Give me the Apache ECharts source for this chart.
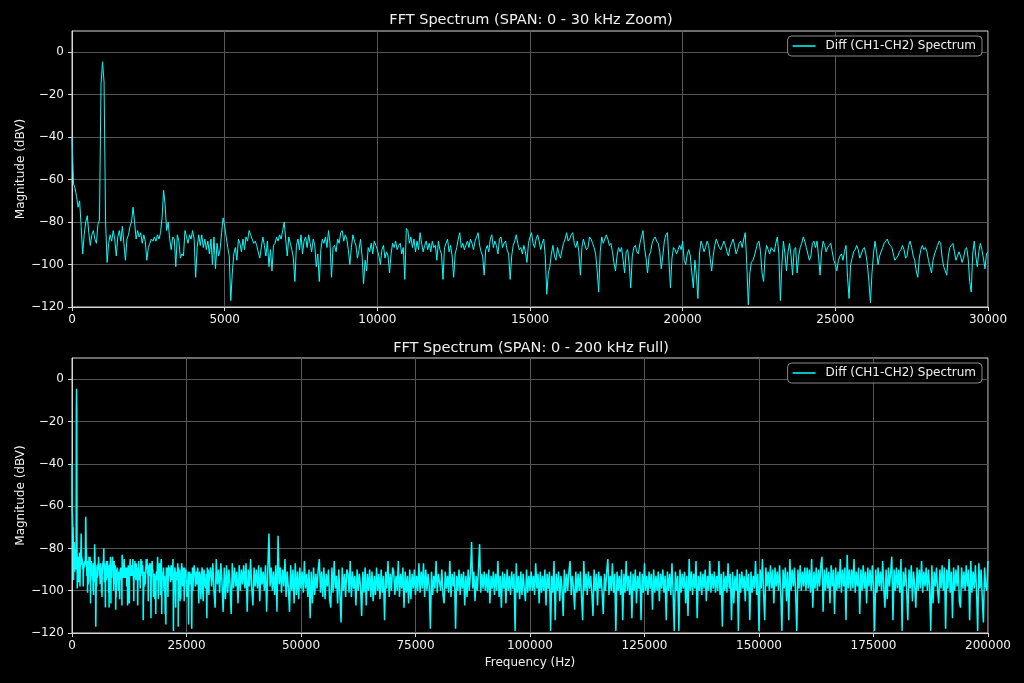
<!DOCTYPE html>
<html>
<head>
<meta charset="utf-8">
<title>FFT Spectrum</title>
<script src="https://cdn.jsdelivr.net/npm/echarts@6/dist/echarts.min.js"></script>
<style>
  html, body { margin: 0; padding: 0; background: #000; }
  #chart { width: 1024px; height: 683px; }
</style>
</head>
<body>
<div id="chart"></div>
<script>
// ---------------- data ----------------
const seriesName = 'Diff (CH1-CH2) Spectrum';
const zoomTitle = 'FFT Spectrum (SPAN: 0 - 30 kHz Zoom)';
const fullTitle = 'FFT Spectrum (SPAN: 0 - 200 kHz Full)';
const yAxisTitle = 'Magnitude (dBV)';
const xAxisTitle = 'Frequency (Hz)';

// frequency bins
const zoomStepHz = 50;          // 0 .. 30000 Hz
const tailStartHz = 30250;      // 30250 .. 200000 Hz
const tailStepHz = 250;

// axis ticks
const zoomSpanHz = [0, 30000];
const zoomTickHz = 5000;
const fullSpanHz = [0, 200000];
const fullTickHz = 25000;
const magRangeDbv = [-120, 10];
const magTickDbv = 20;
const magTickValues = [-120, -100, -80, -60, -40, -20, 0];

// magnitude (dBV), 0..30000 Hz every 50 Hz (one row = 1 kHz)
const zoomMagDbv = [
  -40,-62,-64,-68,-73,-70,-82,-95,-86,-80,-77,-85,-91,-86,-84,-88,-90,-81,-79,-15,
  -4.5,-14,-80,-99,-90,-86,-89,-84,-88,-96,-87,-84,-89,-82,-90,-98,-88,-86,-82,-80,
  -73,-80,-88,-84,-87,-85,-90,-86,-89,-98,-92,-90,-88,-89,-87,-89,-86,-88,-85,-78,
  -65,-72,-84,-80,-88,-93,-87,-88,-101,-86,-89,-97,-95,-96,-84,-87,-90,-86,-88,-84,
  -88,-106,-92,-86,-91,-86,-92,-88,-93,-89,-95,-88,-100,-87,-102,-90,-96,-93,-85,-78,
  -82,-87,-92,-96,-117,-104,-95,-92,-98,-88,-90,-94,-88,-93,-87,-89,-84,-86,-88,-90,
  -89,-91,-94,-97,-92,-87,-91,-96,-89,-101,-93,-103,-91,-90,-87,-89,-86,-88,-84,-80,
  -88,-96,-87,-90,-93,-97,-108,-91,-88,-93,-86,-95,-89,-87,-92,-86,-90,-94,-88,-91,
  -101,-95,-108,-93,-88,-90,-87,-92,-84,-90,-106,-92,-91,-94,-88,-90,-85,-84,-89,-86,
  -88,-93,-100,-92,-86,-89,-91,-97,-93,-88,-96,-109,-98,-103,-92,-94,-90,-95,-89,-91,
  -93,-96,-100,-93,-91,-97,-94,-96,-104,-95,-90,-92,-89,-93,-91,-90,-95,-92,-107,-83,
  -84,-90,-87,-92,-88,-94,-89,-93,-85,-90,-94,-91,-89,-93,-90,-94,-89,-92,-91,-98,
  -89,-93,-95,-107,-92,-90,-88,-94,-91,-96,-106,-95,-92,-88,-85,-92,-90,-93,-91,-89,
  -92,-88,-90,-93,-89,-87,-85,-91,-94,-96,-105,-93,-91,-94,-88,-86,-92,-89,-91,-95,
  -88,-87,-92,-90,-89,-93,-95,-107,-96,-91,-89,-86,-90,-93,-92,-95,-91,-94,-99,-90,
  -87,-85,-90,-92,-88,-86,-89,-93,-90,-88,-96,-114,-104,-101,-95,-91,-96,-98,-92,-95,
  -97,-93,-90,-88,-85,-89,-88,-86,-85,-90,-92,-89,-94,-105,-92,-88,-91,-93,-92,-87,
  -88,-90,-92,-95,-103,-113,-94,-87,-90,-88,-86,-88,-91,-90,-94,-99,-103,-96,-92,-94,
  -92,-98,-104,-94,-93,-100,-111,-96,-92,-91,-94,-95,-90,-87,-84,-92,-97,-104,-96,-94,
  -90,-88,-87,-89,-90,-94,-102,-96,-89,-86,-85,-98,-111,-97,-92,-93,-95,-93,-91,-93,
  -89,-98,-100,-95,-93,-96,-104,-111,-98,-105,-116,-95,-89,-91,-94,-92,-89,-91,-97,-103,
  -96,-91,-88,-90,-92,-93,-91,-89,-91,-94,-96,-92,-90,-88,-91,-95,-93,-90,-89,-92,
  -88,-85,-100,-119,-104,-99,-98,-96,-93,-90,-89,-94,-104,-108,-96,-91,-93,-95,-92,-92,
  -94,-90,-87,-95,-117,-100,-89,-95,-103,-94,-90,-96,-105,-93,-92,-104,-96,-92,-90,-87,
  -89,-92,-95,-98,-96,-90,-89,-92,-89,-96,-105,-94,-89,-91,-94,-92,-91,-90,-94,-98,
  -100,-103,-98,-96,-95,-98,-94,-91,-106,-116,-100,-97,-94,-93,-91,-93,-97,-95,-93,-92,
  -95,-100,-108,-118,-104,-95,-89,-94,-100,-96,-94,-92,-90,-89,-88,-90,-91,-92,-95,-98,
  -97,-96,-94,-93,-91,-93,-97,-96,-91,-89,-92,-96,-98,-103,-106,-97,-93,-91,-93,-92,
  -94,-98,-101,-104,-98,-95,-93,-91,-89,-90,-97,-101,-103,-105,-96,-92,-91,-90,-94,-98,
  -96,-94,-96,-99,-97,-93,-92,-97,-108,-113,-95,-89,-96,-101,-94,-90,-93,-97,-102,-95,
  -94
];

// magnitude (dBV), 30250..200000 Hz every 250 Hz (one row = 10 kHz)
const tailMagDbv = [
  -89,-98,-87,-100,-108,-85,-97,-90,-101,-87,-96,-110,-89,-104,-88,-101,-90,-97,-111,-87,-99,-89,-98,-91,-106,-88,-100,-90,-97,-88,-99,-87,-110,-90,-98,-85,-99,-107,-89,-98,
  -90,-99,-88,-105,-89,-97,-91,-100,-88,-110,-90,-73,-98,-89,-100,-91,-102,-88,-110,-74,-97,-89,-101,-90,-98,-85,-103,-91,-99,-110,-88,-100,-90,-106,-87,-102,-91,-104,-89,-99,
  -91,-101,-86,-99,-92,-103,-90,-113,-91,-106,-89,-102,-92,-99,-90,-85,-101,-91,-103,-89,-104,-92,-98,-90,-104,-108,-89,-101,-86,-99,-93,-106,-90,-102,-115,-89,-100,-92,-103,-90,
  -92,-101,-86,-103,-91,-99,-93,-107,-90,-100,-92,-98,-112,-91,-101,-89,-107,-92,-100,-90,-103,-91,-105,-93,-102,-89,-100,-92,-104,-90,-101,-93,-114,-91,-99,-86,-103,-92,-100,-89,
  -91,-102,-93,-100,-86,-103,-92,-99,-89,-108,-91,-101,-93,-106,-90,-104,-92,-99,-90,-102,-93,-100,-87,-101,-91,-99,-87,-103,-90,-100,-92,-98,-118,-91,-102,-93,-99,-86,-101,-92,
  -92,-100,-90,-102,-106,-91,-99,-93,-101,-86,-103,-92,-98,-91,-118,-93,-100,-90,-102,-92,-99,-91,-107,-93,-103,-90,-100,-92,-77,-99,-91,-105,-93,-100,-90,-78,-101,-92,-99,-91,
  -100,-92,-101,-90,-106,-93,-99,-91,-102,-92,-100,-86,-103,-93,-108,-91,-99,-92,-106,-90,-100,-93,-102,-91,-99,-92,-119,-87,-101,-93,-104,-91,-102,-92,-99,-105,-90,-101,-93,-100,
  -91,-100,-93,-102,-87,-99,-92,-106,-91,-101,-93,-100,-90,-107,-92,-99,-91,-119,-93,-101,-86,-114,-92,-100,-91,-105,-93,-99,-112,-90,-101,-92,-100,-91,-86,-102,-93,-99,-109,-91,
  -101,-92,-100,-91,-103,-114,-86,-100,-92,-102,-91,-99,-93,-101,-112,-90,-100,-92,-107,-91,-99,-93,-101,-111,-92,-100,-91,-85,-102,-93,-100,-87,-101,-92,-119,-91,-100,-93,-102,-90,
  -114,-92,-101,-86,-100,-93,-102,-91,-113,-92,-100,-90,-106,-93,-99,-91,-114,-92,-101,-87,-100,-93,-102,-91,-99,-92,-109,-90,-101,-93,-100,-91,-105,-92,-99,-90,-101,-93,-114,-91,
  -100,-92,-102,-87,-101,-119,-91,-100,-93,-119,-90,-101,-92,-99,-91,-106,-93,-112,-85,-100,-91,-102,-92,-99,-86,-113,-93,-100,-91,-102,-92,-99,-90,-105,-93,-100,-86,-101,-92,-99,
  -91,-101,-93,-100,-86,-102,-92,-117,-91,-100,-93,-101,-87,-99,-92,-114,-91,-106,-93,-100,-90,-119,-92,-101,-91,-99,-93,-105,-90,-100,-92,-114,-91,-101,-93,-99,-86,-102,-92,-119,
  -90,-99,-85,-101,-114,-89,-98,-91,-100,-88,-99,-90,-106,-89,-98,-91,-100,-88,-101,-119,-90,-99,-89,-105,-91,-114,-85,-100,-90,-98,-89,-101,-119,-90,-99,-88,-100,-91,-98,-89,
  -100,-89,-99,-90,-101,-85,-108,-91,-99,-89,-100,-90,-98,-88,-84,-110,-90,-100,-89,-99,-91,-106,-88,-98,-90,-111,-89,-100,-91,-99,-85,-101,-90,-98,-89,-114,-83,-99,-90,-100,
  -90,-99,-85,-101,-91,-98,-89,-111,-90,-100,-88,-99,-91,-106,-89,-98,-90,-100,-88,-99,-119,-90,-101,-89,-98,-91,-100,-86,-99,-108,-90,-104,-89,-98,-91,-84,-114,-90,-100,-89,
  -99,-90,-101,-85,-119,-91,-98,-89,-100,-114,-90,-99,-88,-105,-91,-98,-108,-89,-100,-90,-99,-86,-101,-91,-98,-89,-100,-90,-99,-119,-88,-106,-91,-98,-89,-100,-106,-90,-99,-88,
  -100,-89,-118,-90,-99,-85,-101,-91,-113,-89,-100,-90,-98,-88,-105,-108,-89,-99,-91,-100,-88,-98,-90,-114,-86,-101,-91,-99,-88,-100,-119,-87,-99,-90,-104,-115,-89,-98,-100,-86
];

// ---------------- build series points from the arrays ----------------
const zoomPoints = zoomMagDbv.map((v, i) => [i * zoomStepHz, v]);
const fullPoints = zoomPoints.concat(tailMagDbv.map((v, i) => [tailStartHz + i * tailStepHz, v]));

// ---------------- styling ----------------
const FONT = 'DejaVu Sans, Liberation Sans, sans-serif';
const lineColor = '#00ffff';
const textColor = '#f0f0f0';
const spineColor = '#d8d8d8';
const gridColor = '#555555';
const minusFmt = v => String(v).replace('-', '\u2212');

function xAxisCfg(gridIndex, span, tick, withName) {
  return {
    type: 'value', gridIndex, min: span[0], max: span[1], interval: tick,
    name: withName ? xAxisTitle : '', nameLocation: 'middle', nameGap: 24,
    nameTextStyle: { color: textColor, fontSize: 12, fontFamily: FONT },
    axisLine: { show: true, onZero: false, lineStyle: { color: spineColor, width: 1 } },
    axisTick: { show: true, inside: false, length: 4, lineStyle: { color: spineColor } },
    axisLabel: { color: textColor, fontSize: 12, fontFamily: FONT, margin: 7, formatter: minusFmt },
    splitLine: { show: true, lineStyle: { color: gridColor, width: 1 } }
  };
}
function yAxisCfg(gridIndex) {
  return {
    type: 'value', gridIndex, min: magRangeDbv[0], max: magRangeDbv[1], interval: magTickDbv,
    name: yAxisTitle, nameLocation: 'middle', nameGap: 45, nameRotate: 90, nameMoveOverlap: false,
    nameTextStyle: { color: textColor, fontSize: 12, fontFamily: FONT },
    axisLine: { show: true, onZero: false, lineStyle: { color: spineColor, width: 1 } },
    axisTick: { show: true, inside: false, length: 4, lineStyle: { color: spineColor }, customValues: magTickValues },
    axisLabel: { color: textColor, fontSize: 12, fontFamily: FONT, margin: 8, showMaxLabel: false, formatter: minusFmt },
    splitLine: { show: true, lineStyle: { color: gridColor, width: 1 } }
  };
}
function legendCfg(top) {
  return {
    data: [seriesName], right: 42, top: top, orient: 'horizontal',
    icon: 'rect', itemWidth: 23, itemHeight: 1.5,
    padding: [4, 6, 4, 5],
    backgroundColor: 'rgba(0,0,0,0.85)', borderColor: '#8a8a8a', borderWidth: 1, borderRadius: 4,
    textStyle: { color: textColor, fontSize: 12, fontFamily: FONT, padding: [0, 0, 0, 5] },
    selectedMode: false
  };
}

const chart = echarts.init(document.getElementById('chart'), null, { renderer: 'canvas' });
chart.setOption({
  backgroundColor: '#000000',
  animation: false,
  textStyle: { fontFamily: FONT },
  title: [
    { text: zoomTitle, left: 526, top: 8, textAlign: 'center',
      textStyle: { color: textColor, fontSize: 14.5, fontWeight: 'normal', fontFamily: FONT } },
    { text: fullTitle, left: 526, top: 336, textAlign: 'center',
      textStyle: { color: textColor, fontSize: 14.5, fontWeight: 'normal', fontFamily: FONT } }
  ],
  legend: [legendCfg(36), legendCfg(363)],
  grid: [
    { left: 72, top: 31, width: 916, height: 276, show: true, borderColor: spineColor, borderWidth: 1, backgroundColor: '#000', containLabel: false },
    { left: 72, top: 358, width: 916, height: 275, show: true, borderColor: spineColor, borderWidth: 1, backgroundColor: '#000', containLabel: false }
  ],
  xAxis: [xAxisCfg(0, zoomSpanHz, zoomTickHz, false), xAxisCfg(1, fullSpanHz, fullTickHz, true)],
  yAxis: [yAxisCfg(0), yAxisCfg(1)],
  series: [
    { name: seriesName, type: 'line', xAxisIndex: 0, yAxisIndex: 0, data: zoomPoints,
      showSymbol: false, symbol: 'none', smooth: false, sampling: null,
      lineStyle: { color: lineColor, width: 1 }, itemStyle: { color: lineColor } },
    { name: seriesName, type: 'line', xAxisIndex: 1, yAxisIndex: 1, data: fullPoints,
      showSymbol: false, symbol: 'none', smooth: false, sampling: null,
      lineStyle: { color: lineColor, width: 1.5 }, itemStyle: { color: lineColor } }
  ]
});
</script>
</body>
</html>
